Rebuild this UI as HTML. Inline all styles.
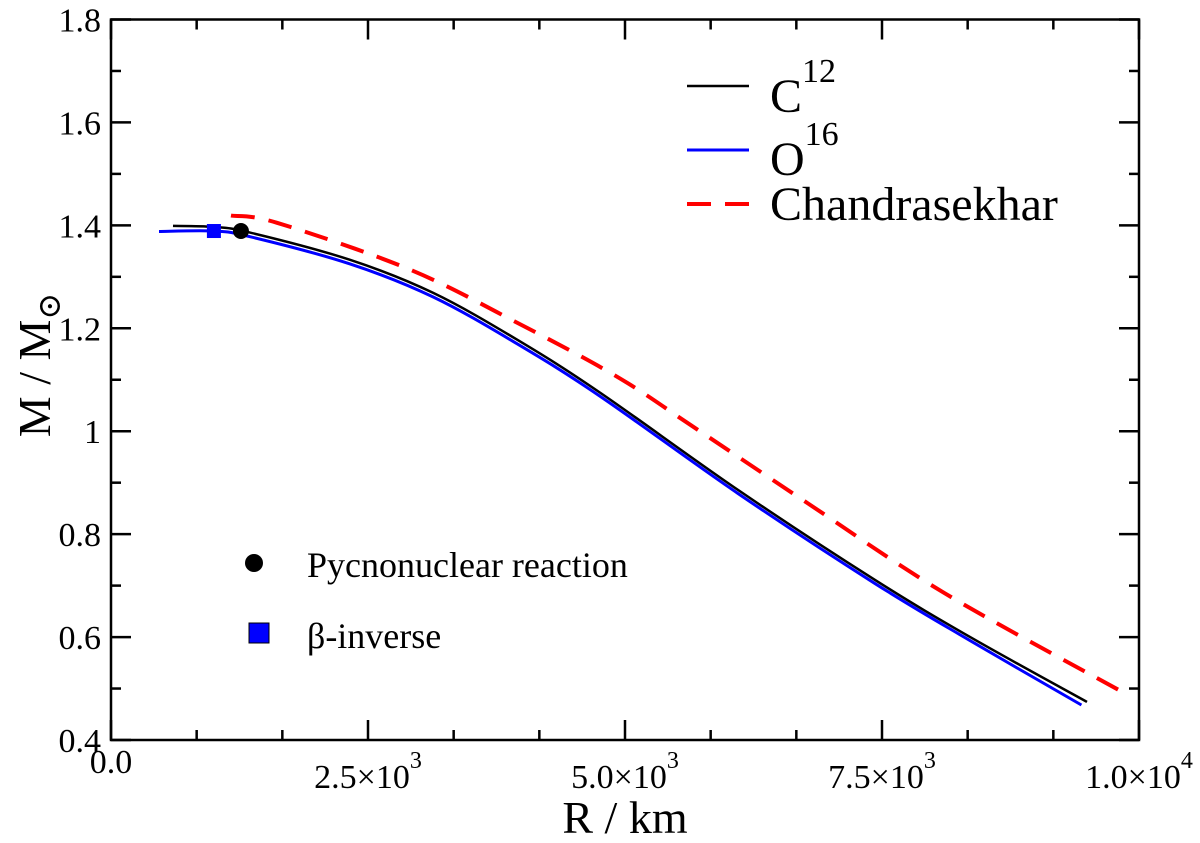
<!DOCTYPE html>
<html><head><meta charset="utf-8"><style>
html,body{margin:0;padding:0;background:#fff}
svg, svg text, svg tspan{font-family:"Liberation Serif","Times New Roman","DejaVu Serif",serif !important}
</style></head><body>
<svg id="chart" width="1200" height="838" viewBox="0 0 1200 838" xmlns="http://www.w3.org/2000/svg">
<g id="marks"></g>
<g id="axes"></g>
<g>
  <line x1="687" y1="86" x2="749" y2="86" stroke="#000" stroke-width="2.5"/>
  <text x="770" y="112" font-size="48">C<tspan font-size="34" dy="-30">12</tspan></text>
  <line x1="687" y1="150" x2="749" y2="150" stroke="#0000ff" stroke-width="3"/>
  <text x="770" y="175" font-size="48">O<tspan font-size="34" dy="-30">16</tspan></text>
  <line x1="687" y1="204" x2="749" y2="204" stroke="#ff0000" stroke-width="4" stroke-dasharray="24,14"/>
  <text x="770" y="220" font-size="48">Chandrasekhar</text>
  <circle cx="254" cy="563" r="9"/>
  <text x="307" y="577" font-size="36">Pycnonuclear reaction</text>
  <rect x="249" y="623" width="20" height="20" fill="#0000ff" stroke="#000" stroke-width="1"/>
  <text x="307" y="648" font-size="36">β-inverse</text>
</g>
<text x="625" y="833" font-size="46" text-anchor="middle">R / km</text>
<text transform="translate(50,365) rotate(-90)" font-size="46" text-anchor="middle">M / M<tspan font-size="32" dy="10">⊙</tspan></text>
</svg>
<script>
const c12R = [603,992,1352,2325,3132,3949,4757,6099,7432,8375,9494];
const c12M = [1.399,1.397,1.386,1.333,1.269,1.178,1.075,0.886,0.711,0.598,0.474];
const o16R = [467,992,1352,2325,3132,3949,4757,6099,7432,8375,9440];
const o16M = [1.388,1.389,1.378,1.325,1.261,1.170,1.068,0.879,0.704,0.591,0.468];
const chR = [1167,1615,2909,3949,4922,5661,6770,8103,9805];
const chM = [1.419,1.405,1.314,1.211,1.106,1.009,0.861,0.686,0.497];
const pycnoPoint = [1264,1.389];
const betaPoint = [1001,1.389];
const xTickVals = [0,2500,5000,7500,10000];
const xTickLabels = [["0.0",""],["2.5×10","3"],["5.0×10","3"],["7.5×10","3"],["1.0×10","4"]];
const yTickVals = [0.4,0.6,0.8,1.0,1.2,1.4,1.6,1.8];
const yTickLabels = ["0.4","0.6","0.8","1","1.2","1.4","1.6","1.8"];

const X0=111,X1=1139,Y0=740,Y1=19.5;
const xs = v => X0 + (v-0)/(10000-0)*(X1-X0);
const ys = v => Y0 - (v-0.4)/(1.8-0.4)*(Y0-Y1);
const NS="http://www.w3.org/2000/svg";
const marks=document.getElementById('marks'), axes=document.getElementById('axes');
function mk(tag,attrs,parent){const e=document.createElementNS(NS,tag);for(const k in attrs)e.setAttribute(k,attrs[k]);parent.appendChild(e);return e;}
function smooth(R,M){
  const p=R.map((r,i)=>[xs(r),ys(M[i])]);
  let d="M"+p[0][0]+","+p[0][1];
  for(let i=0;i<p.length-1;i++){
    const a=p[i-1]||p[i],b=p[i],c=p[i+1],e=p[i+2]||c;
    const c1=[b[0]+(c[0]-a[0])/6,b[1]+(c[1]-a[1])/6],c2=[c[0]-(e[0]-b[0])/6,c[1]-(e[1]-b[1])/6];
    d+=" C"+c1+" "+c2+" "+c;
  }
  return d;
}
let e;
e=mk('path',{d:smooth(chR,chM),fill:'none',stroke:'#ff0000','stroke-width':4,'stroke-dasharray':'24,14'},marks);


e=mk('path',{d:smooth(o16R,o16M),fill:'none',stroke:'#0000ff','stroke-width':3},marks);


e=mk('path',{d:smooth(c12R,c12M),fill:'none',stroke:'#000','stroke-width':2.5},marks);


e=mk('rect',{x:xs(betaPoint[0])-7,y:ys(betaPoint[1])-7,width:14,height:14,fill:'#0000ff'},marks);


e=mk('circle',{cx:xs(pycnoPoint[0]),cy:ys(pycnoPoint[1]),r:8,fill:'#000'},marks);



e=mk('rect',{x:X0,y:Y1,width:X1-X0,height:Y0-Y1,fill:'none',stroke:'#000','stroke-width':2.5},axes);


for(let i=0;i<xTickVals.length;i++){
  const x=xs(xTickVals[i]);
  e=mk('line',{x1:x,y1:Y0,x2:x,y2:Y0-20,stroke:'#000','stroke-width':2.5},axes);
  
  
  e=mk('line',{x1:x,y1:Y1,x2:x,y2:Y1+20,stroke:'#000','stroke-width':2.5},axes);
  
  
  if(i<xTickVals.length-1){
    for(let k=1;k<3;k++){
      const xm=xs(xTickVals[i]+(xTickVals[i+1]-xTickVals[i])*k/3);
      e=mk('line',{x1:xm,y1:Y0,x2:xm,y2:Y0-10,stroke:'#000','stroke-width':2.5},axes);
      
      
      e=mk('line',{x1:xm,y1:Y1,x2:xm,y2:Y1+10,stroke:'#000','stroke-width':2.5},axes);
      
      
    }
  }
  const lab=xTickLabels[i];
  const t=mk('text',{x:x,y:lab[1]?788:773,'font-size':34,'text-anchor':'middle'},axes);
  
  
  t.textContent=lab[0];
  if(lab[1]){const s=mk('tspan',{'font-size':24,dy:-20},t);s.textContent=lab[1];}
}
for(let i=0;i<yTickVals.length;i++){
  const y=ys(yTickVals[i]);
  e=mk('line',{x1:X0,y1:y,x2:X0+20,y2:y,stroke:'#000','stroke-width':2.5},axes);
  
  
  e=mk('line',{x1:X1,y1:y,x2:X1-20,y2:y,stroke:'#000','stroke-width':2.5},axes);
  
  
  if(i<yTickVals.length-1){
    const ym=ys((yTickVals[i]+yTickVals[i+1])/2);
    e=mk('line',{x1:X0,y1:ym,x2:X0+10,y2:ym,stroke:'#000','stroke-width':2.5},axes);
    
    
    e=mk('line',{x1:X1,y1:ym,x2:X1-10,y2:ym,stroke:'#000','stroke-width':2.5},axes);
    
    
  }
  const t=mk('text',{x:101,y:y+12,'font-size':34,'text-anchor':'end'},axes);
  
  
  t.textContent=yTickLabels[i];
}
</script>
</body></html>
